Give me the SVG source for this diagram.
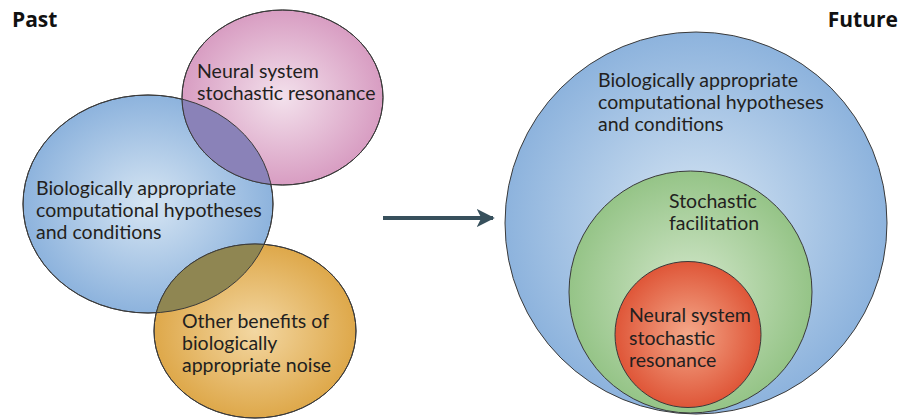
<svg xmlns="http://www.w3.org/2000/svg" width="910" height="419" viewBox="0 0 910 419">
<style>
  .lbl{font-family:Lato,"Liberation Sans",sans-serif;font-size:19.5px;fill:#231f20}
  .hdr{font-family:"Open Sans","Liberation Sans",sans-serif;font-size:21px;font-weight:bold;fill:#111}
  .edge{stroke:#3a3a3a;stroke-width:1}
</style>
<defs>
  <radialGradient id="gBlue"><stop offset="0" stop-color="#d6e5f3"/><stop offset="1" stop-color="#8db3dd"/></radialGradient>
  <radialGradient id="gPink"><stop offset="0" stop-color="#f3e1ec"/><stop offset="1" stop-color="#d89dc2"/></radialGradient>
  <radialGradient id="gOrange"><stop offset="0" stop-color="#f3d7a2"/><stop offset="1" stop-color="#dea84a"/></radialGradient>
  <radialGradient id="gGreen"><stop offset="0" stop-color="#d3e7cb"/><stop offset="1" stop-color="#95c487"/></radialGradient>
  <radialGradient id="gRed"><stop offset="0" stop-color="#f4a88a"/><stop offset="1" stop-color="#df5638"/></radialGradient>
  <clipPath id="cBlueL"><ellipse cx="148" cy="204" rx="125" ry="109"/></clipPath>
  <marker id="ah" viewBox="0 0 10 10" refX="9" refY="5" markerWidth="4.5" markerHeight="4.5" orient="auto" markerUnits="strokeWidth">
    <path d="M0,0 L10,5 L0,10 L2.5,5 Z" fill="#37505c"/>
  </marker>
</defs>

<text class="hdr" x="12" y="27">Past</text>
<text class="hdr" x="898" y="27" text-anchor="end">Future</text>

<g id="past-blue">
  <ellipse cx="148" cy="204" rx="125" ry="109" fill="url(#gBlue)" class="edge"/>
</g>
<g id="past-pink">
  <ellipse cx="282.5" cy="97.5" rx="100.5" ry="87.5" fill="url(#gPink)" class="edge"/>
  <ellipse cx="282.5" cy="97.5" rx="100.5" ry="87.5" fill="#8a82b8" clip-path="url(#cBlueL)"/>
</g>
<g id="past-orange">
  <ellipse cx="255" cy="331" rx="101" ry="87" fill="url(#gOrange)" class="edge"/>
  <ellipse cx="255" cy="331" rx="101" ry="87" fill="#8f8652" clip-path="url(#cBlueL)"/>
</g>
<g id="past-outlines">
  <ellipse cx="148" cy="204" rx="125" ry="109" class="edge" fill="none"/>
  <ellipse cx="282.5" cy="97.5" rx="100.5" ry="87.5" class="edge" fill="none"/>
  <ellipse cx="255" cy="331" rx="101" ry="87" class="edge" fill="none"/>
</g>
<g id="past-labels">
  <text class="lbl" x="197" y="78">Neural system</text>
  <text class="lbl" x="197" y="100">stochastic resonance</text>
  <text class="lbl" x="36" y="195">Biologically appropriate</text>
  <text class="lbl" x="36" y="217">computational hypotheses</text>
  <text class="lbl" x="36" y="239">and conditions</text>
  <text class="lbl" x="182" y="328">Other benefits of</text>
  <text class="lbl" x="182" y="350">biologically</text>
  <text class="lbl" x="182" y="372">appropriate noise</text>
</g>

<g id="connectors">
  <line x1="383" y1="218" x2="493" y2="218" stroke="#37505c" stroke-width="4" marker-end="url(#ah)"/>
</g>

<g id="future-blue">
  <circle cx="696" cy="223" r="191" fill="url(#gBlue)" class="edge"/>
  <text class="lbl" x="598" y="87">Biologically appropriate</text>
  <text class="lbl" x="598" y="109">computational hypotheses</text>
  <text class="lbl" x="598" y="131">and conditions</text>
</g>
<g id="future-green">
  <ellipse cx="690.5" cy="292" rx="121.5" ry="121" fill="url(#gGreen)" class="edge"/>
  <text class="lbl" x="669" y="208">Stochastic</text>
  <text class="lbl" x="669" y="230">facilitation</text>
</g>
<g id="future-red">
  <circle cx="688" cy="334.5" r="73" fill="url(#gRed)" class="edge"/>
  <text class="lbl" x="629" y="322">Neural system</text>
  <text class="lbl" x="629" y="345">stochastic</text>
  <text class="lbl" x="629" y="367">resonance</text>
</g>
</svg>
